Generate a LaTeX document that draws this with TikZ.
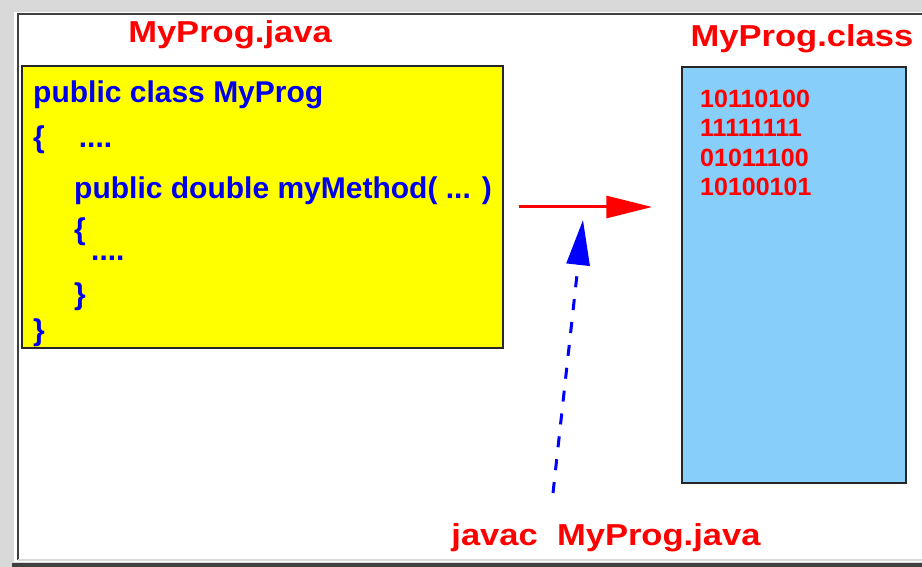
\documentclass[tikz,border=0pt]{standalone}
\usepackage{fontspec}
\setmainfont{Liberation Sans}
\newfontfamily\titlefont[FakeStretch=1.14]{Liberation Sans}
\usepackage{tikz}
\usetikzlibrary{arrows.meta}

\definecolor{frameback}{RGB}{217,217,217}
\definecolor{framedark}{RGB}{64,64,64}
\definecolor{skyfill}{RGB}{135,206,250}
\definecolor{srcfill}{RGB}{255,255,0}
\definecolor{codeblue}{RGB}{0,0,235}

\begin{document}
\begin{tikzpicture}[
  x=1pt, y=-1pt,
  font=\bfseries, >={Triangle[length=45pt,width=23pt]},
  srcbox/.style={draw=black!85, line width=1.5pt, fill=srcfill, inner sep=0pt,
                 minimum width=481pt, minimum height=282pt},
  binbox/.style={draw=black!85, line width=1.5pt, fill=skyfill, inner sep=0pt,
                 minimum width=224pt, minimum height=416pt},
  title/.style={text=red, inner sep=0pt, anchor=base,
                font=\fontsize{30.3}{36}\selectfont\titlefont\bfseries},
  code/.style={text=codeblue, inner sep=0pt, anchor=base west,
               font=\fontsize{30}{36}\selectfont\bfseries},
  bits/.style={text=red, inner sep=0pt, anchor=base west,
               font=\fontsize{25}{30}\selectfont\bfseries},
  compile/.style={->, red, line width=3pt,
                  >={Triangle[length=46pt,width=22pt]}},
  invoke/.style={->, blue, line width=3pt, dash pattern=on 11pt off 12pt}]
\useasboundingbox (0,0) rectangle (922,567);
% window frame
\fill[frameback] (0,0) rectangle (922,567);
\fill[white] (14,12) rectangle (922,562);
\draw[framedark, line width=2pt] (18,560) -- (18,14) -- (922,14);
\draw[black!15, line width=2pt] (18,560) -- (922,560);
\fill[framedark] (12,563) rectangle (922,567);

% source file and class file
\node[srcbox] (src) at (262.5,207) {};
\node[binbox] (bin) at (794,275) {};
\node[title] (srcname) at (230,43) {MyProg.java};
\node[title] (binname) at (802,47) {MyProg.class};

% java source lines
\node[code] (code1) at (33,103) {public class MyProg};
\node[code] (code2) at (33,148) {\{\hspace{34pt}....};
\node[code] (code3) at (74,199) {public double myMethod( ... )};
\node[code] (code4) at (74,240) {\{};
\node[code] (code5) at (91,260) {....};
\node[code] (code6) at (74,305) {\}};
\node[code] (code7) at (33,340) {\}};

% bytecode
\foreach \b [count=\i] in {10110100,11111111,01011100,10100101}
  \node[bits] (bits\i) at (700,77.5+29.6*\i) {\b};

% compiler call
\node[title] (cmd) at (606,545) {javac\ \ MyProg.java};
\coordinate (cmdtop) at (553,493);
\coordinate (hit) at (583,220);

\draw[compile, shorten <=15pt, shorten >=29pt] (src.east) -- (src.east -| bin.west);
\draw[invoke] (cmdtop) -- (hit);
\end{tikzpicture}
\end{document}
